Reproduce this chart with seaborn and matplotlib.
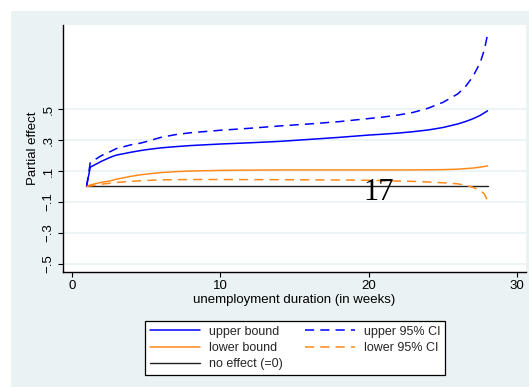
import matplotlib
matplotlib.use("Agg")
import matplotlib.pyplot as plt
from matplotlib.patches import Rectangle
import numpy as np
import pandas as pd
import seaborn as sns

# Partial effect of unemployment duration, with bounds and 95% CIs
weeks_upper = [1, 1.25, 2, 2.6, 3, 4, 4.6, 5, 6, 7, 8, 10, 12, 14, 16, 18, 20, 21, 22, 23, 24, 25, 26, 26.5, 27, 27.5, 28]
upper_bound = [0, 0.125, 0.163, 0.189, 0.203, 0.222, 0.232, 0.238, 0.25, 0.258, 0.265, 0.275, 0.283, 0.292,
               0.305, 0.318, 0.333, 0.339, 0.346, 0.355, 0.366, 0.382, 0.405, 0.42, 0.438, 0.46, 0.49]

weeks_ci = [1, 1.25, 2, 2.6, 3, 4, 4.6, 5, 6, 7, 8, 10, 12, 14, 16, 18, 20, 21, 22, 23, 24, 25, 25.5, 26, 26.5,
            27, 27.5, 27.8, 28]
upper_ci = [0, 0.155, 0.2, 0.226, 0.245, 0.27, 0.28, 0.29, 0.318, 0.336, 0.348, 0.364, 0.377, 0.392,
            0.405, 0.42, 0.44, 0.45, 0.463, 0.48, 0.507, 0.545, 0.572, 0.6, 0.645, 0.71, 0.8, 0.89, 0.985]

weeks_lower = [1, 1.25, 2, 2.6, 3, 4, 4.6, 5, 6, 7, 8, 10, 12, 14, 16, 18, 20, 22, 24, 25, 26, 27, 27.5, 28]
lower_bound = [0, 0.01, 0.027, 0.036, 0.047, 0.066, 0.075, 0.08, 0.09, 0.096, 0.1, 0.104, 0.106, 0.107,
               0.107, 0.107, 0.107, 0.107, 0.108, 0.109, 0.112, 0.119, 0.125, 0.133]

weeks_lower_ci = [1, 1.25, 2, 2.6, 3, 4, 4.6, 6, 8, 10, 14, 18, 20, 22, 23, 24, 25, 26, 26.5, 27, 27.5, 27.8, 28]
lower_ci = [0, 0.004, 0.015, 0.021, 0.026, 0.033, 0.037, 0.043, 0.045, 0.045, 0.044, 0.042, 0.04, 0.035,
            0.033, 0.029, 0.024, 0.017, 0.008, -0.005, -0.025, -0.05, -0.095]

weeks_zero = [1, 28]
no_effect = [0, 0]

y_ticks = [-0.5, -0.3, -0.1, 0.1, 0.3, 0.5]
y_tick_labels = ["\u2212.5", "\u2212.3", "\u2212.1", ".1", ".3", ".5"]
x_ticks = [0, 10, 20, 30]

BG = "#EAF2F3"
BLUE = "#0000FF"
ORANGE = "#FF8A1C"

sns.set_theme(style="white")
plt.rcParams["font.family"] = ["Liberation Sans", "DejaVu Sans"]

W, H = 529, 387
fig = plt.figure(figsize=(W / 100, H / 100), dpi=100, facecolor="white")
fig.patches.append(Rectangle((11 / W, 0), 1 - 11 / W, (H - 11) / H,
                             transform=fig.transFigure, facecolor=BG, edgecolor="none", zorder=-10))

left, right, top, bottom = 63.3, 526, 25, 272.3
ax = fig.add_axes([left / W, 1 - bottom / H, (right - left) / W, (bottom - top) / H])
ax.set_facecolor("white")

dash = (0, (6, 4))
sns.lineplot(x=weeks_upper, y=upper_bound, ax=ax, color=BLUE, linewidth=1.1, label="upper bound")
sns.lineplot(x=weeks_lower, y=lower_bound, ax=ax, color=ORANGE, linewidth=1.1, label="lower bound")
sns.lineplot(x=weeks_zero, y=no_effect, ax=ax, color="#222222", linewidth=1.0, label="no effect (=0)")
sns.lineplot(x=weeks_ci, y=upper_ci, ax=ax, color=BLUE, linewidth=1.1, linestyle=dash, label="upper 95% CI")
sns.lineplot(x=weeks_lower_ci, y=lower_ci, ax=ax, color=ORANGE, linewidth=1.1, linestyle=dash, label="lower 95% CI")

ax.set_xlim(-0.566, 30.59)
ax.set_ylim(-0.556, 1.046)
ax.set_xticks(x_ticks)
ax.set_xticklabels([str(t) for t in x_ticks])
ax.set_yticks(y_ticks)
ax.set_yticklabels(y_tick_labels, rotation=90, va="center")

ax.yaxis.grid(True, color=BG, linewidth=1.2)
ax.xaxis.grid(False)
ax.set_axisbelow(True)

for side in ["top", "right"]:
    ax.spines[side].set_visible(False)
for side in ["left", "bottom"]:
    ax.spines[side].set_color("black")
    ax.spines[side].set_linewidth(1.0)

ax.tick_params(axis="both", which="both", length=3.6, width=0.8, color="black",
               labelsize=9.5, labelcolor="black", left=True, bottom=True)
ax.tick_params(axis="y", pad=2.5)
ax.tick_params(axis="x", pad=1.8)

ax.set_xlabel("unemployment duration (in weeks)", fontsize=9.5, color="black")
ax.set_ylabel("Partial effect", fontsize=9.5, color="black")
ax.xaxis.set_label_coords(((294.5 - left) / (right - left)), (bottom - 300) / (bottom - top))
ax.xaxis.label.set_va("center")
ax.yaxis.set_label_coords((33 - left) / (right - left), 0.5)
ax.yaxis.label.set_va("center")

ax.text(20.7, -0.037, "17", family="Liberation Serif", fontsize=22, color="black",
        ha="center", va="center")

handles, labels = ax.get_legend_handles_labels()
if ax.legend_:
    ax.legend_.remove()
leg = fig.legend(handles, labels, ncol=2, loc="center",
                 bbox_to_anchor=((138 + 452) / 2 / W, 1 - (318 + 378) / 2 / H),
                 fontsize=9, frameon=True, fancybox=False, framealpha=1,
                 edgecolor="black", facecolor="white", handlelength=4.0,
                 handletextpad=0.7, columnspacing=1.8, labelspacing=0.35,
                 borderpad=0.4, borderaxespad=0)
leg.get_frame().set_linewidth(0.9)

fig.savefig("out.png", dpi=100, facecolor=fig.get_facecolor())
